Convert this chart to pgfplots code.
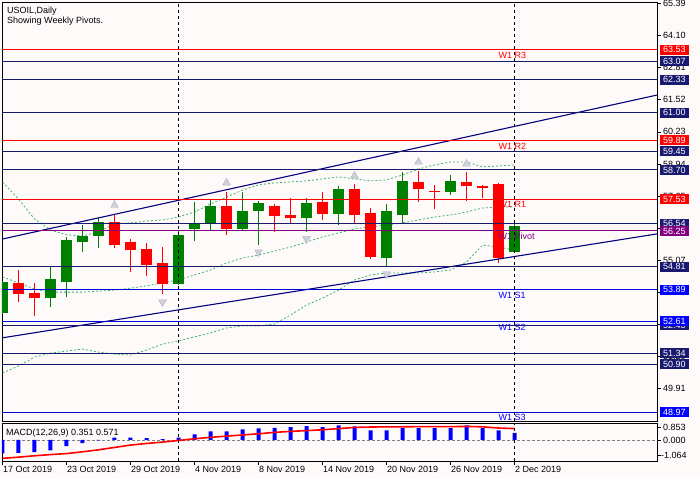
\documentclass[border=0pt]{standalone}
\usepackage{fontspec}
\setmainfont{Liberation Sans}
\usepackage{pgfplots}
\usepackage{pgfplotstable}
\pgfplotsset{compat=1.18}
\definecolor{bg}{RGB}{255,250,250}
\definecolor{bull}{RGB}{0,128,0}
\definecolor{bear}{RGB}{255,0,0}
\definecolor{navyl}{RGB}{25,25,112}
\definecolor{chan}{RGB}{0,0,128}
\definecolor{sblue}{RGB}{0,0,255}
\definecolor{piv}{RGB}{128,0,128}
\definecolor{band}{RGB}{60,179,113}
\definecolor{frac}{RGB}{175,178,195}

\pgfplotstableread{
i o h l c
0 52.96 54.25 52.92 54.20
3 53.57 54.81 53.19 54.32
4 54.21 56.02 53.61 55.88
5 55.80 56.49 55.40 56.03
6 56.06 56.76 55.57 56.61
11 54.13 56.29 54.07 56.09
12 56.33 57.41 55.84 56.56
13 56.56 57.49 56.29 57.25
15 56.33 57.81 56.29 57.05
16 57.05 57.45 55.68 57.37
19 56.77 57.57 56.21 57.37
21 56.93 58.05 56.49 57.93
24 55.17 57.33 54.85 57.05
25 56.90 58.62 56.57 58.26
28 57.83 58.50 57.71 58.26
32 55.41 56.66 55.41 56.45
}\bulltab

\pgfplotstableread{
i o h l c
1 54.16 54.68 53.40 53.73
2 53.75 54.16 52.84 53.57
7 56.61 56.92 55.57 55.70
8 55.80 55.92 54.61 55.49
9 55.52 55.76 54.45 54.89
10 54.96 55.60 53.73 54.13
14 57.25 57.81 56.09 56.33
17 57.25 57.33 56.21 56.85
18 56.89 57.57 56.57 56.77
20 57.41 57.81 56.69 56.93
22 57.93 58.13 56.57 56.90
23 56.97 57.17 55.13 55.21
26 58.22 58.66 57.42 57.95
27 57.87 58.09 57.14 57.84
29 58.22 58.62 57.46 58.07
30 58.06 58.09 57.58 57.99
31 58.13 58.17 54.97 55.17
}\beartab

\pgfplotstableread{
i up mid lo
0 58.22 54.40 50.54
1 57.53 54.16 50.82
2 56.73 53.92 51.18
3 56.29 53.79 51.34
4 56.09 53.79 51.42
5 56.05 53.79 51.50
6 56.21 53.83 51.38
7 56.53 53.87 51.30
8 56.57 53.95 51.26
9 56.65 54.04 51.46
10 56.69 54.16 51.70
11 56.81 54.28 51.83
12 57.01 54.48 51.99
13 57.33 54.68 52.15
14 57.61 54.96 52.35
15 57.89 55.16 52.43
16 58.10 55.28 52.43
17 58.18 55.44 52.51
18 58.22 55.60 52.87
19 58.26 55.80 53.27
20 58.34 56.01 53.55
21 58.42 56.17 53.87
22 58.34 56.33 54.28
23 58.26 56.41 54.48
24 58.30 56.49 54.56
25 58.50 56.57 54.56
26 58.74 56.69 54.56
27 58.90 56.81 54.60
28 59.02 56.89 54.68
29 59.02 57.01 55.00
30 58.82 57.17 55.68
31 58.86 57.21 55.60
32 58.90 57.21 55.48
}\bandtab

\pgfplotstableread{
i hist sig
0 -0.68 -0.93
1 -0.66 -0.87
2 -0.61 -0.80
3 -0.53 -0.74
4 -0.31 -0.69
5 -0.16 -0.60
6 -0.02 -0.50
7 0.11 -0.38
8 0.11 -0.26
9 0.09 -0.18
10 0.04 -0.11
11 0.11 -0.03
12 0.28 0.06
13 0.43 0.13
14 0.43 0.19
15 0.53 0.25
16 0.58 0.31
17 0.61 0.38
18 0.64 0.43
19 0.69 0.47
20 0.64 0.51
21 0.73 0.57
22 0.68 0.63
23 0.48 0.65
24 0.48 0.66
25 0.59 0.66
26 0.59 0.67
27 0.59 0.67
28 0.59 0.67
29 0.73 0.68
30 0.59 0.66
31 0.48 0.60
32 0.351 0.571
}\macdtab

\pgfplotsset{
  candle/.style n args={2}{only marks, mark=*, mark size=0pt, mark options={draw=none, fill=none},
    error bars/.cd, y dir=plus, y explicit, error mark=none,
    error bar style={draw=#1, line width=#2}},
}

\begin{document}
\begin{tikzpicture}[font=\fontsize{9}{10}\selectfont]
\useasboundingbox (0pt,0pt) rectangle (700pt,479pt);
\fill[bg] (0pt,0pt) rectangle (700pt,479pt);

\begin{axis}[
  name=main, at={(2pt,58pt)}, anchor=south west, scale only axis,
  width=655pt, height=419pt,
  xmin=-0.031, xmax=40.906, ymin=48.61, ymax=65.45,
  axis line style={black, line width=0.8pt},
  axis background/.style={fill=bg},
  xtick=\empty,
  ytick={49.91,51.20,52.49,53.78,55.07,56.36,57.65,58.94,60.23,61.52,62.81,64.10,65.39},
  ytick pos=right, tick align=outside, major tick length=4pt,
  tick style={black, line width=0.6pt},
  yticklabel style={font=\fontsize{9}{10}\selectfont, anchor=west, inner sep=0pt, xshift=2pt,
    /pgf/number format/.cd, fixed, fixed zerofill, precision=2, assume math mode=true},
]
% bands
\addplot[band, line width=0.8pt, dash pattern=on 2pt off 2pt] table[x=i,y=up] \bandtab;
\addplot[band, line width=0.8pt, dash pattern=on 2pt off 2pt] table[x=i,y=mid] \bandtab;
\addplot[band, line width=0.8pt, dash pattern=on 2pt off 2pt] table[x=i,y=lo] \bandtab;
% wicks
\addplot[candle={bull}{1pt}]
  table[x=i, y=l, y error plus expr=\thisrow{h}-\thisrow{l}] \bulltab;
\addplot[candle={bear}{1pt}]
  table[x=i, y=l, y error plus expr=\thisrow{h}-\thisrow{l}] \beartab;
% bodies
\addplot[candle={bull}{11pt}]
  table[x=i, y=o, y error plus expr=\thisrow{c}-\thisrow{o}] \bulltab;
\addplot[candle={bear}{11pt}]
  table[x=i, y=c, y error plus expr=\thisrow{o}-\thisrow{c}] \beartab;
% fractals
\addplot[only marks, mark=triangle*, mark size=4.5pt, mark options={fill=frac!60, draw=frac}]
  coordinates {(7,57.29) (14,58.18) (22,58.46) (26,59.02) (29,58.94)};
\addplot[only marks, mark=triangle*, mark size=4.5pt, mark options={fill=frac!60, draw=frac, rotate=180}]
  coordinates {(10,53.39) (16,55.40) (19,55.93) (24,54.52)};
% channel
\addplot[chan, line width=1.1pt] coordinates {(-0.031,55.92) (40.906,61.71)};
\addplot[chan, line width=1.1pt] coordinates {(-0.031,51.95) (40.906,56.13)};
% levels
\addplot[bear, line width=0.9pt] coordinates {(-0.031,63.53) (40.906,63.53)};
\addplot[navyl, line width=0.9pt] coordinates {(-0.031,63.07) (40.906,63.07)};
\addplot[navyl, line width=0.9pt] coordinates {(-0.031,62.33) (40.906,62.33)};
\addplot[navyl, line width=0.9pt] coordinates {(-0.031,61.00) (40.906,61.00)};
\addplot[bear, line width=0.9pt] coordinates {(-0.031,59.89) (40.906,59.89)};
\addplot[navyl, line width=0.9pt] coordinates {(-0.031,59.45) (40.906,59.45)};
\addplot[navyl, line width=0.9pt] coordinates {(-0.031,58.70) (40.906,58.70)};
\addplot[bear, line width=0.9pt] coordinates {(-0.031,57.53) (40.906,57.53)};
\addplot[navyl, line width=0.9pt] coordinates {(-0.031,56.54) (40.906,56.54)};
\addplot[piv, line width=0.9pt] coordinates {(-0.031,56.25) (40.906,56.25)};
\addplot[navyl, line width=0.9pt] coordinates {(-0.031,54.81) (40.906,54.81)};
\addplot[sblue!85!black, line width=0.9pt] coordinates {(-0.031,53.89) (40.906,53.89)};
\addplot[sblue!85!black, line width=0.9pt] coordinates {(-0.031,52.61) (40.906,52.61)};
\addplot[navyl, line width=0.9pt] coordinates {(-0.031,52.45) (40.906,52.45)};
\addplot[navyl, line width=0.9pt] coordinates {(-0.031,51.34) (40.906,51.34)};
\addplot[navyl, line width=0.9pt] coordinates {(-0.031,50.90) (40.906,50.90)};
\addplot[sblue!85!black, line width=0.9pt] coordinates {(-0.031,48.97) (40.906,48.97)};
% month separators
\addplot[black, line width=0.8pt, dash pattern=on 3pt off 3pt] coordinates {(11,48.61) (11,65.45)};
\addplot[black, line width=0.8pt, dash pattern=on 3pt off 3pt] coordinates {(32,48.61) (32,65.45)};
% anchor coordinates
\coordinate (WX) at (axis cs:31,60);
\coordinate (b1) at (axis cs:40.906,63.53);
\coordinate (b2) at (axis cs:40.906,63.07);
\coordinate (b3) at (axis cs:40.906,62.33);
\coordinate (b4) at (axis cs:40.906,61.00);
\coordinate (b5) at (axis cs:40.906,59.89);
\coordinate (b6) at (axis cs:40.906,59.45);
\coordinate (b7) at (axis cs:40.906,58.70);
\coordinate (b8) at (axis cs:40.906,57.53);
\coordinate (b9) at (axis cs:40.906,56.54);
\coordinate (b10) at (axis cs:40.906,56.25);
\coordinate (b11) at (axis cs:40.906,54.81);
\coordinate (b12) at (axis cs:40.906,53.89);
\coordinate (b13) at (axis cs:40.906,52.45);
\coordinate (b14) at (axis cs:40.906,52.61);
\coordinate (b15) at (axis cs:40.906,51.34);
\coordinate (b16) at (axis cs:40.906,50.90);
\coordinate (b17) at (axis cs:40.906,48.97);
\end{axis}

\begin{axis}[
  name=macd, at={(2pt,18pt)}, anchor=south west, scale only axis,
  width=655pt, height=38pt,
  xmin=-0.031, xmax=40.906, ymin=-1.064, ymax=0.853,
  axis line style={black, line width=0.8pt},
  axis background/.style={fill=bg},
  xtick={0,4,8,12,16,20,24,28,32},
  xticklabels={17 Oct 2019,23 Oct 2019,29 Oct 2019,4 Nov 2019,8 Nov 2019,14 Nov 2019,20 Nov 2019,26 Nov 2019,2 Dec 2019},
  xtick pos=bottom, ytick pos=right,
  ytick={0}, yticklabels={0.000},
  tick align=outside, major tick length=4pt,
  tick style={black, line width=0.6pt},
  xticklabel style={font=\fontsize{9}{10}\selectfont, anchor=north west, inner sep=0pt, xshift=0.5pt, yshift=-1pt},
  yticklabel style={font=\fontsize{9}{10}\selectfont, anchor=west, inner sep=0pt, xshift=2pt},
]
\addplot[gray, line width=0.7pt, dash pattern=on 3pt off 2pt] coordinates {(-0.031,0) (40.906,0)};
\addplot[ybar, bar width=4pt, fill=sblue, draw=none] table[x=i,y=hist] \macdtab;
\addplot[bear, line width=1.6pt] table[x=i,y=sig] \macdtab;
\addplot[black, line width=0.8pt, dash pattern=on 3pt off 3pt] coordinates {(11,-1.064) (11,0.853)};
\addplot[black, line width=0.8pt, dash pattern=on 3pt off 3pt] coordinates {(32,-1.064) (32,0.853)};
\end{axis}

% MACD range labels
\draw[black, line width=0.6pt] (657pt,51.5pt) -- (661pt,51.5pt);
\node[anchor=west, inner sep=0pt] at (663pt,51.5pt) {0.853};
\draw[black, line width=0.6pt] (657pt,23.5pt) -- (661pt,23.5pt);
\node[anchor=west, inner sep=0pt] at (661pt,23.5pt) {-1.064};

% texts
\node[anchor=base west, inner sep=0pt] at (7pt,465.7pt) {USOIL,Daily};
\node[anchor=base west, inner sep=0pt] at (7pt,455pt) {Showing Weekly Pivots.};
\node[anchor=base west, inner sep=0pt] at (6pt,44pt) {MACD(12,26,9) 0.351 0.571};

% W1 labels
\node[anchor=base west, inner sep=0pt, text=bear, yshift=-8.7pt] at (WX |- b1) {W1 R3};
\node[anchor=base west, inner sep=0pt, text=bear, yshift=-8.7pt] at (WX |- b5) {W1 R2};
\node[anchor=base west, inner sep=0pt, text=bear, yshift=-8.7pt] at (WX |- b8) {W1 R1};
\node[anchor=base west, inner sep=0pt, text=piv, yshift=-8.7pt] at (WX |- b10) {W1 Pivot};
\node[anchor=base west, inner sep=0pt, text=sblue, yshift=-8.7pt] at (WX |- b12) {W1 S1};
\node[anchor=base west, inner sep=0pt, text=sblue, yshift=-8.7pt] at (WX |- b14) {W1 S2};
\node[anchor=base west, inner sep=0pt, text=sblue, yshift=-8.7pt] at (WX |- b17) {W1 S3};

% price boxes
\tikzset{pbox/.style={anchor=west, inner sep=0pt, minimum width=28.5pt, minimum height=10pt, text=white, xshift=3pt}}
\node[pbox, fill=bear] at (b1) {63.53};
\node[pbox, fill=navyl] at (b2) {63.07};
\node[pbox, fill=navyl] at (b3) {62.33};
\node[pbox, fill=navyl] at (b4) {61.00};
\node[pbox, fill=bear] at (b5) {59.89};
\node[pbox, fill=navyl] at (b6) {59.45};
\node[pbox, fill=navyl] at (b7) {58.70};
\node[pbox, fill=bear] at (b8) {57.53};
\node[pbox, fill=navyl] at (b9) {56.54};
\node[pbox, fill=piv] at (b10) {56.25};
\node[pbox, fill=navyl] at (b11) {54.81};
\node[pbox, fill=sblue] at (b12) {53.89};
\node[pbox, fill=navyl] at (b13) {52.45};
\node[pbox, fill=sblue] at (b14) {52.61};
\node[pbox, fill=navyl] at (b15) {51.34};
\node[pbox, fill=navyl] at (b16) {50.90};
\node[pbox, fill=sblue] at (b17) {48.97};
\end{tikzpicture}
\end{document}
